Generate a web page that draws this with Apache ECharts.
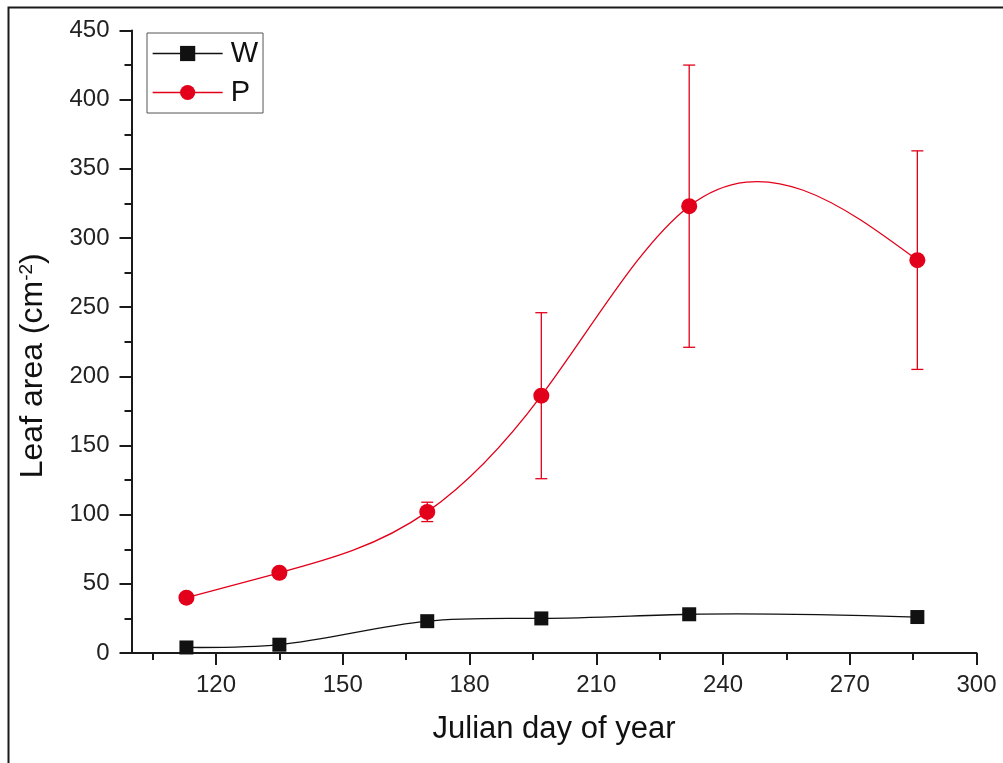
<!DOCTYPE html>
<html>
<head>
<meta charset="utf-8">
<title>Leaf area by Julian day</title>
<script src="https://cdn.jsdelivr.net/npm/echarts@6/dist/echarts.min.js"></script>
<style>
  html, body { margin: 0; padding: 0; background: #fff; }
  #chart { width: 1003px; height: 763px; }
</style>
</head>
<body>
<div id="chart"></div>
<script>
// Sampling days (Julian day of year)
const days = [113, 135, 170, 197, 232, 286];
// Leaf area, treatment W
const wValues = [4, 6, 23, 25, 28, 26];
// Leaf area, treatment P, with its error half-widths
const pValues = [40, 58, 102, 186, 323, 284];
const pErrors = [3, 3, 7, 60, 102, 79];
// Axis ticks
const xMajorTicks = [120, 150, 180, 210, 240, 270, 300];
const xMinorTicks = [105, 135, 165, 195, 225, 255, 285];

const FONT = '"Liberation Sans", Arial, Helvetica, sans-serif';
const RED = '#e2001a';
const BLACK = '#111111';

// Slopes of the natural cubic spline through (xs, ys), one per knot.
function splineSlopes(xs, ys) {
  const n = xs.length;
  const h = [];
  for (let i = 0; i < n - 1; i++) h.push(xs[i + 1] - xs[i]);
  // Tridiagonal system for the second derivatives (M0 = Mn-1 = 0)
  const a = new Array(n).fill(0), b = new Array(n).fill(1), c = new Array(n).fill(0), r = new Array(n).fill(0);
  for (let i = 1; i < n - 1; i++) {
    a[i] = h[i - 1];
    b[i] = 2 * (h[i - 1] + h[i]);
    c[i] = h[i];
    r[i] = 6 * ((ys[i + 1] - ys[i]) / h[i] - (ys[i] - ys[i - 1]) / h[i - 1]);
  }
  for (let i = 1; i < n; i++) {
    const w = a[i] / b[i - 1];
    b[i] -= w * c[i - 1];
    r[i] -= w * r[i - 1];
  }
  const M = new Array(n).fill(0);
  M[n - 1] = r[n - 1] / b[n - 1];
  for (let i = n - 2; i >= 0; i--) M[i] = (r[i] - c[i] * M[i + 1]) / b[i];
  const m = [];
  for (let i = 0; i < n - 1; i++) {
    m.push((ys[i + 1] - ys[i]) / h[i] - h[i] * (2 * M[i] + M[i + 1]) / 6);
  }
  m.push((ys[n - 1] - ys[n - 2]) / h[n - 2] + h[n - 2] * (M[n - 2] + 2 * M[n - 1]) / 6);
  return m;
}

// Custom series that draws the spline through a data set, one Bezier piece per interval.
function splineSeries(xs, ys, color) {
  const slopes = splineSlopes(xs, ys);
  return {
    type: 'custom',
    xAxisIndex: 0,
    z: 2,
    silent: true,
    data: xs.map((x, i) => [x, ys[i]]),
    renderItem: function (params, api) {
      const i = params.dataIndex;
      if (i >= xs.length - 1) return null;
      const x0 = xs[i], x1 = xs[i + 1], y0 = ys[i], y1 = ys[i + 1];
      const k = (x1 - x0) / 3;
      const p0 = api.coord([x0, y0]);
      const p1 = api.coord([x1, y1]);
      const c0 = api.coord([x0 + k, y0 + slopes[i] * k]);
      const c1 = api.coord([x1 - k, y1 - slopes[i + 1] * k]);
      return {
        type: 'bezierCurve',
        shape: { x1: p0[0], y1: p0[1], x2: p1[0], y2: p1[1], cpx1: c0[0], cpy1: c0[1], cpx2: c1[0], cpy2: c1[1] },
        style: { stroke: color, lineWidth: 1.3, fill: null }
      };
    }
  };
}

const chart = echarts.init(document.getElementById('chart'), null, { renderer: 'canvas' });

const wData = days.map((d, i) => [d, wValues[i]]);
const pData = days.map((d, i) => [d, pValues[i]]);
const pErrData = days.map((d, i) => [d, pValues[i] - pErrors[i], pValues[i] + pErrors[i]]);

const axisLineStyle = { color: '#1a1a1a', width: 2 };

chart.setOption({
  animation: false,
  backgroundColor: '#ffffff',
  grid: { left: 131.5, right: 26.5, top: 30.5, bottom: 110, containLabel: false },
  legend: {
    data: [
      { name: 'W', lineStyle: { color: BLACK, width: 1.3, opacity: 1 } },
      { name: 'P', lineStyle: { color: RED, width: 1.3, opacity: 1 } }
    ],
    orient: 'vertical',
    left: 147,
    top: 33,
    width: 113,
    padding: [6, 5, 6, 5],
    itemWidth: 70,
    itemHeight: 19,
    itemGap: 10,
    borderColor: '#555',
    borderWidth: 1,
    backgroundColor: '#fff',
    textStyle: { fontFamily: FONT, fontSize: 29, color: '#111', lineHeight: 28, padding: [0, 0, 0, 3] }
  },
  xAxis: [
    {
      type: 'value',
      min: 100,
      max: 300,
      name: 'Julian day of year',
      nameLocation: 'middle',
      nameGap: 61,
      nameTextStyle: { fontFamily: FONT, fontSize: 31, color: '#111' },
      axisLine: { show: true, onZero: false, lineStyle: axisLineStyle },
      axisTick: { show: true, inside: false, length: 12, lineStyle: axisLineStyle, customValues: xMajorTicks },
      axisLabel: { show: true, margin: 20, fontFamily: FONT, fontSize: 24, color: '#222', customValues: xMajorTicks },
      splitLine: { show: false }
    },
    {
      // Minor ticks between the labelled ones
      type: 'value',
      position: 'bottom',
      min: 100,
      max: 300,
      axisLine: { show: false },
      axisTick: { show: true, inside: false, length: 7, lineStyle: axisLineStyle, customValues: xMinorTicks },
      axisLabel: { show: false, customValues: xMinorTicks },
      splitLine: { show: false }
    }
  ],
  yAxis: {
    type: 'value',
    min: 0,
    max: 450,
    interval: 50,
    name: 'Leaf area (cm{sup|-2})',
    nameLocation: 'middle',
    nameGap: 82,
    nameTextStyle: {
      fontFamily: FONT, fontSize: 32, color: '#111',
      padding: [0, 48, 0, 0],
      rich: { sup: { fontFamily: FONT, fontSize: 19, color: '#111', verticalAlign: 'top', lineHeight: 28 } }
    },
    axisLine: { show: true, onZero: false, lineStyle: axisLineStyle },
    axisTick: { show: true, inside: false, length: 12, lineStyle: axisLineStyle },
    minorTick: { show: true, splitNumber: 2, length: 7, lineStyle: axisLineStyle },
    axisLabel: { margin: 22, fontFamily: FONT, fontSize: 24, color: '#222' },
    splitLine: { show: false },
    minorSplitLine: { show: false }
  },
  series: [
    {
      // Error bars of P
      type: 'custom',
      xAxisIndex: 0,
      z: 1,
      silent: true,
      data: pErrData,
      renderItem: function (params, api) {
        const x = api.value(0);
        const lo = api.coord([x, api.value(1)]);
        const hi = api.coord([x, api.value(2)]);
        const cap = 6;
        const style = { stroke: RED, lineWidth: 1.3 };
        return {
          type: 'group',
          children: [
            { type: 'line', shape: { x1: lo[0], y1: lo[1], x2: hi[0], y2: hi[1] }, style: style },
            { type: 'line', shape: { x1: hi[0] - cap, y1: hi[1], x2: hi[0] + cap, y2: hi[1] }, style: style },
            { type: 'line', shape: { x1: lo[0] - cap, y1: lo[1], x2: lo[0] + cap, y2: lo[1] }, style: style }
          ]
        };
      }
    },
    splineSeries(days, wValues, BLACK),
    splineSeries(days, pValues, RED),
    {
      name: 'W',
      type: 'line',
      xAxisIndex: 0,
      z: 3,
      data: wData,
      symbol: 'rect',
      symbolSize: 14,
      itemStyle: { color: BLACK },
      lineStyle: { color: BLACK, width: 1.3, opacity: 0 }
    },
    {
      name: 'P',
      type: 'line',
      xAxisIndex: 0,
      z: 3,
      data: pData,
      symbol: 'circle',
      symbolSize: 16,
      itemStyle: { color: RED },
      lineStyle: { color: RED, width: 1.3, opacity: 0 }
    }
  ],
  graphic: [
    {
      type: 'polyline',
      silent: true,
      shape: { points: [[8.5, 763], [8.5, 7.5], [1003, 7.5]] },
      style: { stroke: '#1a1a1a', lineWidth: 2, fill: null }
    }
  ]
});
</script>
</body>
</html>
